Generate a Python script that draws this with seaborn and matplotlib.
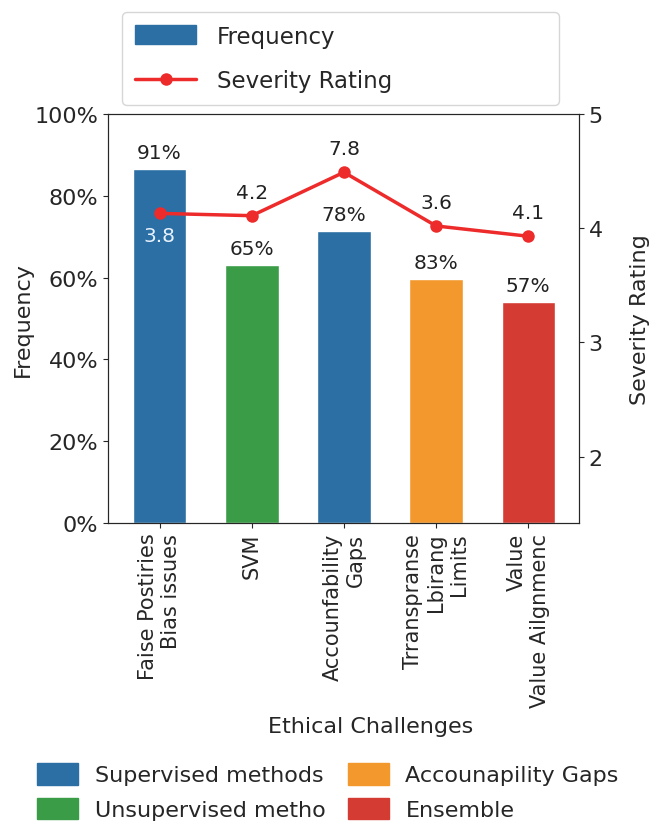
import numpy as np
import pandas as pd
import seaborn as sns
import matplotlib.pyplot as plt
from matplotlib.patches import Patch
from matplotlib.lines import Line2D
from matplotlib.ticker import PercentFormatter

# data
categories = ['Faise Postiries\nBias issues', 'SVM', 'Accounfability\nGaps',
              'Trranspranse\nLbirang\nLimits', 'Value\nValue Ailgnmenc']
frequency = [86.6, 63.1, 71.4, 59.7, 54.0]          # bar heights (%)
freq_labels = ['91%', '65%', '78%', '83%', '57%']   # printed above bars
severity = [4.13, 4.11, 4.49, 4.02, 3.93]           # line points
severity_labels = ['3.8', '4.2', '7.8', '3.6', '4.1']
method_group = ['Supervised methods', 'Unsupervised metho', 'Supervised methods',
                'Accounapility Gaps', 'Ensemble']
group_names = ['Supervised methods', 'Unsupervised metho', 'Accounapility Gaps', 'Ensemble']
group_colors = ['#2b6fa4', '#3a9c46', '#f2982c', '#d33b33']
line_color = '#ee2b2b'

df = pd.DataFrame({'challenge': categories, 'freq': frequency, 'group': method_group})

sns.set_style('ticks')
plt.rcParams['font.family'] = ['DejaVu Sans']

fig = plt.figure(figsize=(6.49, 8.29), dpi=100)
ax = fig.add_axes([108 / 649, 1 - 524 / 829, 471 / 649, 409 / 829])

sns.barplot(data=df, x='challenge', y='freq', hue='group',
            palette=dict(zip(group_names, group_colors)),
            dodge=False, width=0.58, saturation=1, legend=False, ax=ax)

for i, (v, lab) in enumerate(zip(frequency, freq_labels)):
    ax.annotate(lab, (i, v), xytext=(0, 5), textcoords='offset points',
                ha='center', va='bottom', fontsize=14.5, color='#222222')

ax.set_ylim(0, 100)
ax.set_yticks([0, 20, 40, 60, 80, 100])
ax.yaxis.set_major_formatter(PercentFormatter(100, decimals=0))
ax.set_xticks(range(len(categories)), categories, rotation=90, multialignment='right')
ax.tick_params(axis='x', labelsize=15)
ax.tick_params(axis='y', labelsize=16)
ax.set_xlabel('Ethical Challenges', fontsize=16)
ax.xaxis.set_label_coords(0.558, -0.472)
ax.set_ylabel('Frequency', fontsize=16)
ax.yaxis.set_label_coords(-0.159, 0.5)

# severity line on the right axis
ax2 = ax.twinx()
sns.lineplot(x=np.arange(len(severity)), y=severity, ax=ax2, color=line_color,
             marker='o', markersize=9, markeredgewidth=0, linewidth=2.5)
for i, (v, lab) in enumerate(zip(severity, severity_labels)):
    if i == 0:
        ax2.annotate(lab, (i, v), xytext=(0, -9), textcoords='offset points',
                     ha='center', va='top', fontsize=14.5, color='#e8f2ff')
    else:
        ax2.annotate(lab, (i, v), xytext=(0, 10), textcoords='offset points',
                     ha='center', va='bottom', fontsize=14.5, color='#222222')
ax2.set_ylim(1.42, 5)
ax2.set_yticks([2, 3, 4, 5])
ax2.tick_params(axis='y', labelsize=16)
ax2.set_ylabel('Severity Rating', fontsize=16)
ax2.yaxis.set_label_coords(1.108, 0.5)
ax.set_xlim(-0.56, 4.55)
ax2.set_xlim(-0.56, 4.55)

# top legend
top_handles = [Patch(color=group_colors[0], label='Frequency'),
               Line2D([0], [0], color=line_color, marker='o', lw=2.5, ms=9,
                      markeredgewidth=0, label='Severity Rating')]
fig.legend(handles=top_handles, loc='upper left',
           bbox_to_anchor=(122 / 649, 1 - 13 / 829, 437 / 649, 0), mode='expand',
           borderaxespad=0, fontsize=16.5, borderpad=0.55, handlelength=2.7,
           handleheight=0.9, handletextpad=0.9, labelspacing=0.95)

# bottom legend for method groups
group_handles = [Patch(color=c, label=n) for n, c in zip(group_names, group_colors)]
fig.legend(handles=group_handles, ncol=2, loc='upper left',
           bbox_to_anchor=(28 / 649, 1 - 755 / 829), frameon=False, borderaxespad=0,
           fontsize=16, handlelength=1.85, handleheight=1.13, handletextpad=0.75,
           columnspacing=1.0, labelspacing=0.55)

fig.savefig('out.png', dpi=100)
